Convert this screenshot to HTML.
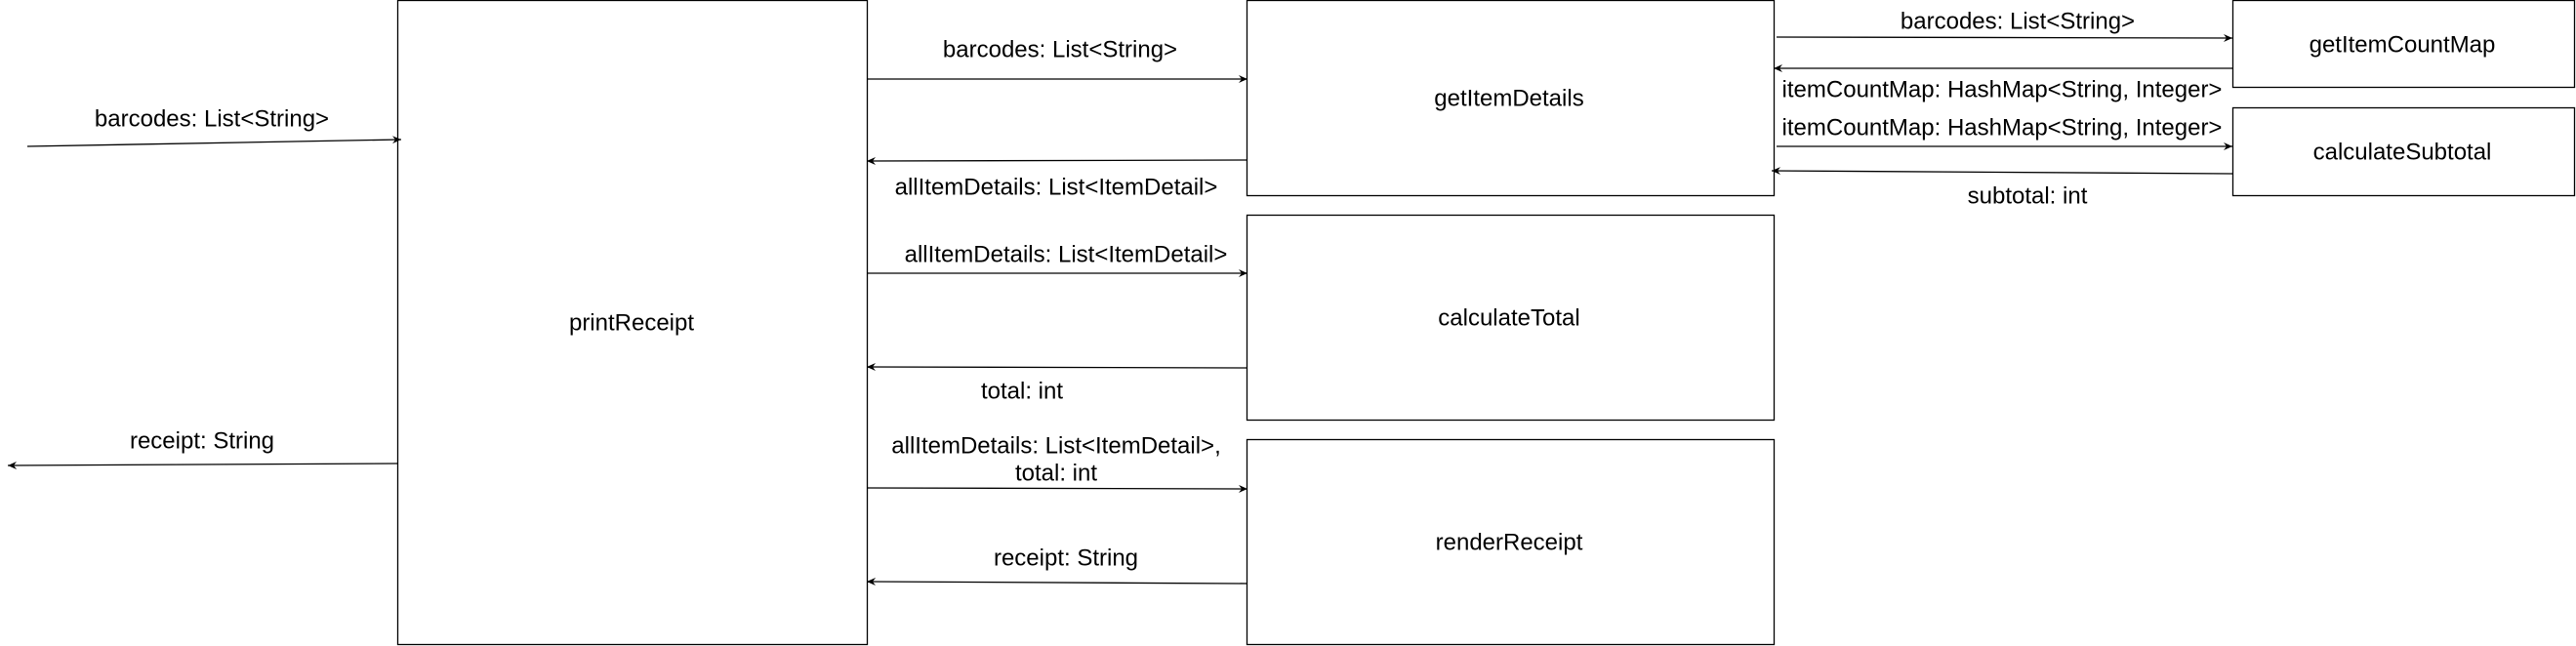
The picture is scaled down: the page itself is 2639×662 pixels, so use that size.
<!DOCTYPE html>
<html><head><meta charset="utf-8"><style>
html,body{margin:0;padding:0;background:#fff;}
svg{display:block;}
text{font-family:"Liberation Sans",Arial,sans-serif;font-size:24px;fill:#000;text-anchor:middle;dominant-baseline:central;}
</style></head><body>
<svg width="2639" height="662" viewBox="0 0 2639 662" xmlns="http://www.w3.org/2000/svg">
<defs><marker id="a" markerWidth="10" markerHeight="10" refX="9" refY="5" orient="auto" markerUnits="userSpaceOnUse"><path d="M0,1 L9,5 L0,9 L3,5 Z" fill="#000"/></marker></defs>
<g fill="none" stroke="#000" stroke-width="1.3">
<rect x="407.5" y="0.5" width="481" height="660"/>
<rect x="1277.5" y="0.5" width="540" height="200"/>
<rect x="1277.5" y="220.5" width="540" height="210"/>
<rect x="1277.5" y="450.5" width="540" height="210"/>
<rect x="2287.5" y="0.5" width="350" height="89"/>
<rect x="2287.5" y="110.5" width="350" height="90"/>
</g>
<g stroke="#000" stroke-width="1.3" marker-end="url(#a)">
<line x1="28" y1="150" x2="411" y2="143"/>
<line x1="407" y1="475" x2="8" y2="477"/>
<line x1="888" y1="81" x2="1278" y2="81"/>
<line x1="1278" y1="164" x2="888" y2="165"/>
<line x1="888" y1="280" x2="1278" y2="280"/>
<line x1="1278" y1="377" x2="888" y2="376"/>
<line x1="888" y1="500" x2="1278" y2="501"/>
<line x1="1278" y1="598" x2="888" y2="596"/>
<line x1="1820" y1="38" x2="2287" y2="39"/>
<line x1="2287" y1="70" x2="1817" y2="70"/>
<line x1="1820" y1="150" x2="2287" y2="150"/>
<line x1="2287" y1="178" x2="1815" y2="175"/>
</g>
<text x="647" y="331">printReceipt</text>
<text x="1546" y="101">getItemDetails</text>
<text x="1546" y="326">calculateTotal</text>
<text x="1546" y="556">renderReceipt</text>
<text x="2461" y="46">getItemCountMap</text>
<text x="2461" y="156">calculateSubtotal</text>
<text x="217" y="122">barcodes: List&lt;String&gt;</text>
<text x="207" y="452">receipt: String</text>
<text x="1086" y="51">barcodes: List&lt;String&gt;</text>
<text x="1082" y="192">allItemDetails: List&lt;ItemDetail&gt;</text>
<text x="1092" y="261">allItemDetails: List&lt;ItemDetail&gt;</text>
<text x="1047" y="401">total: int</text>
<text x="1082" y="457">allItemDetails: List&lt;ItemDetail&gt;,</text>
<text x="1082" y="485">total: int</text>
<text x="1092" y="572">receipt: String</text>
<text x="2067" y="22">barcodes: List&lt;String&gt;</text>
<text x="2051" y="92">itemCountMap: HashMap&lt;String, Integer&gt;</text>
<text x="2051" y="131">itemCountMap: HashMap&lt;String, Integer&gt;</text>
<text x="2077" y="201">subtotal: int</text>
</svg>
</body></html>
